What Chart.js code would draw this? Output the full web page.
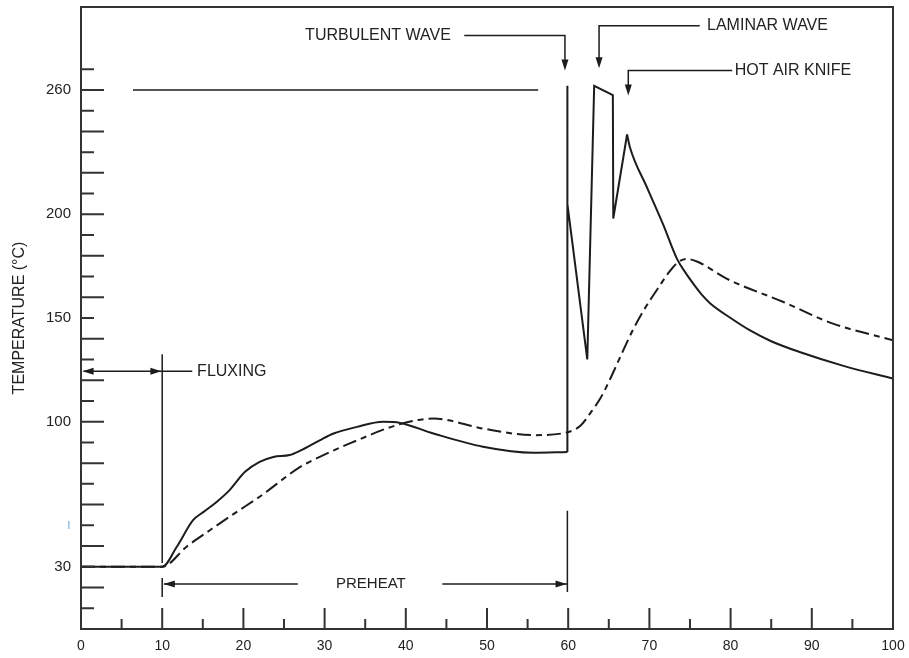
<!DOCTYPE html>
<html lang="en">
<head>
<meta charset="UTF-8">
<title>Wave soldering temperature profile</title>
<script src="https://cdn.jsdelivr.net/npm/chart.js@4.4.1/dist/chart.umd.min.js"></script>
<style>
    html, body { margin: 0; padding: 0; background: #fff; }
</style>
</head>
<body>
<canvas id="canvas" width="909" height="658"></canvas>
<script>
// axis labels
var xLabels = [0, 10, 20, 30, 40, 50, 60, 70, 80, 90, 100];
var yLabels = [30, 50, 100, 150, 200, 260];

// solid profile: preheat part (smooth)
var solidPreheatTime = [0, 10, 11.8, 13.8, 15.1, 16.7, 18.3, 20.2, 22, 23.7, 25.7, 27, 29.4, 31.1, 34, 37.2, 39.3, 43.4, 49.5, 55.7, 59.9];
var solidPreheatTemp = [30, 30, 39.7, 52.5, 56.5, 61.3, 67, 75.8, 80.6, 83, 83.9, 86, 91, 94.3, 97.5, 99.9, 99.4, 94.3, 87.9, 85, 85.4];

// solid profile: turbulent wave, laminar wave, hot air knife (sharp)
var solidWaveTime = [59.9, 59.9, 59.9, 62.35, 63.2, 65.5, 65.55, 67.25];
var solidWaveTemp = [85.4, 262, 205, 130, 262, 257.5, 198, 238.5];

// solid profile: cooling (smooth)
var solidCoolTime = [67.25, 67.6, 69.7, 71.7, 73.4, 74.5, 75.6, 76.5, 77.5, 80, 82.4, 85, 88.5, 94, 100];
var solidCoolTemp = [238.5, 232.4, 213, 195, 178.5, 171.5, 165.5, 161, 157, 150, 144, 138.8, 133.6, 126.8, 120.8];

// dash-dot profile
var dashTime = [0, 10, 13, 16, 19, 22, 27, 29.4, 33.1, 39.3, 43.4, 49.5, 55.7, 59.8, 61.5, 62.7, 64, 65.1, 66.5, 68, 69.5, 71, 72.3, 73.4, 74.6, 76, 79.5, 86.5, 92.6, 100];
var dashTemp = [30, 30, 39.7, 48, 56, 63.8, 78.2, 83, 89.5, 98.8, 101.5, 96.7, 93.5, 94.8, 98, 104, 111.5, 120, 132, 144.5, 155, 164, 171.5, 176.5, 178.5, 177, 169, 157.7, 147.3, 139.3];

function pts(xs, ys) {
    return xs.map(function (x, i) { return { x: x, y: ys[i] }; });
}

var ink = '#1c1c1c';
var font = '"Liberation Sans", Arial, Helvetica, sans-serif';

function arrowHead(ctx, x, y, dir) {
    var L = 11, W = 3.5;
    ctx.beginPath();
    ctx.moveTo(x, y);
    if (dir === 'down') { ctx.lineTo(x - W, y - L); ctx.lineTo(x + W, y - L); }
    if (dir === 'left') { ctx.lineTo(x + L, y - W); ctx.lineTo(x + L, y + W); }
    if (dir === 'right') { ctx.lineTo(x - L, y - W); ctx.lineTo(x - L, y + W); }
    ctx.closePath();
    ctx.fill();
}

function noPad(scale) {
    scale.paddingTop = 0;
    scale.paddingBottom = 0;
    scale.paddingLeft = 0;
    scale.paddingRight = 0;
}

var decor = {
    id: 'decor',
    afterDatasetsDraw: function (chart) {
        var ctx = chart.ctx;
        var xs = chart.scales.x, ys = chart.scales.y;
        var a = chart.chartArea;
        var X = function (v) { return xs.getPixelForValue(v); };
        var Y = function (v) { return ys.getPixelForValue(v); };

        ctx.save();
        ctx.strokeStyle = '#333';
        ctx.fillStyle = ink;

        // frame
        ctx.lineWidth = 2;
        ctx.strokeRect(a.left, a.top, a.right - a.left, a.bottom - a.top);

        // inside ticks
        ctx.beginPath();
        for (var t = 10; t <= 270; t += 10) {
            var len = (t % 20 === 0) ? 23 : 13;
            ctx.moveTo(a.left, Y(t)); ctx.lineTo(a.left + len, Y(t));
        }
        for (var s = 5; s <= 95; s += 5) {
            var l2 = (s % 10 === 0) ? 21 : 10;
            ctx.moveTo(X(s), a.bottom); ctx.lineTo(X(s), a.bottom - l2);
        }
        ctx.stroke();

        // annotation lines
        ctx.strokeStyle = ink;
        ctx.lineWidth = 1.5;
        ctx.beginPath();
        // 260 reference line
        ctx.moveTo(X(6.4), Y(260)); ctx.lineTo(X(56.3), Y(260));
        // turbulent wave
        ctx.moveTo(X(47.2), Y(286.3)); ctx.lineTo(X(59.6), Y(286.3)); ctx.lineTo(X(59.6), Y(271));
        // laminar wave
        ctx.moveTo(X(76.2), Y(291)); ctx.lineTo(X(63.8), Y(291)); ctx.lineTo(X(63.8), Y(272));
        // hot air knife
        ctx.moveTo(X(80.2), Y(269.4)); ctx.lineTo(X(67.4), Y(269.4)); ctx.lineTo(X(67.4), Y(259));
        // fluxing
        ctx.moveTo(X(0.3), Y(124.3)); ctx.lineTo(X(13.7), Y(124.3));
        ctx.moveTo(X(10), Y(132.5)); ctx.lineTo(X(10), Y(31.8));
        ctx.moveTo(X(10), Y(24.6)); ctx.lineTo(X(10), Y(15.4));
        // preheat
        ctx.moveTo(X(10.2), Y(21.7)); ctx.lineTo(X(26.7), Y(21.7));
        ctx.moveTo(X(44.5), Y(21.7)); ctx.lineTo(X(59.9), Y(21.7));
        ctx.moveTo(X(59.9), Y(57)); ctx.lineTo(X(59.9), Y(17.8));
        ctx.stroke();

        arrowHead(ctx, X(59.6), Y(269.4), 'down');
        arrowHead(ctx, X(63.8), Y(270.4), 'down');
        arrowHead(ctx, X(67.4), Y(257.3), 'down');
        arrowHead(ctx, X(0.2), Y(124.3), 'left');
        arrowHead(ctx, X(9.9), Y(124.3), 'right');
        arrowHead(ctx, X(10.2), Y(21.7), 'left');
        arrowHead(ctx, X(59.8), Y(21.7), 'right');

        // annotation text
        ctx.fillStyle = '#222';
        ctx.textBaseline = 'middle';
        ctx.textAlign = 'left';
        ctx.font = '16px ' + font;
        ctx.fillText('TURBULENT WAVE', X(27.6), Y(286.3));
        ctx.fillText('LAMINAR WAVE', X(77.1), Y(291));
        ctx.fillText('HOT AIR KNIFE', X(80.5), Y(269.4));
        ctx.fillText('FLUXING', X(14.3), Y(124.3));
        ctx.textAlign = 'center';
        ctx.font = '15px ' + font;
        ctx.fillText('PREHEAT', X(35.7), Y(21.7));
        ctx.restore();
    }
};

var lineStyle = {
    borderColor: ink,
    borderWidth: 2,
    pointRadius: 0,
    fill: false
};

new Chart(document.getElementById('canvas'), {
    type: 'line',
    data: {
        datasets: [
            Object.assign({ data: pts(solidPreheatTime, solidPreheatTemp), cubicInterpolationMode: 'monotone' }, lineStyle),
            Object.assign({ data: pts(solidWaveTime, solidWaveTemp), tension: 0 }, lineStyle),
            Object.assign({ data: pts(solidCoolTime, solidCoolTemp), cubicInterpolationMode: 'monotone' }, lineStyle),
            Object.assign({ data: pts(dashTime, dashTemp), cubicInterpolationMode: 'monotone', borderDash: [14, 5, 6, 5] }, lineStyle)
        ]
    },
    options: {
        responsive: false,
        devicePixelRatio: 1,
        animation: false,
        layout: { padding: { left: 0, top: 7, right: 16, bottom: 0 } },
        plugins: { legend: { display: false }, tooltip: { enabled: false } },
        scales: {
            x: {
                type: 'linear',
                min: 0,
                max: 100,
                grid: { display: false, drawTicks: false, tickLength: 0 },
                border: { display: false },
                afterBuildTicks: function (scale) {
                    scale.ticks = xLabels.map(function (v) { return { value: v }; });
                },
                afterFit: function (scale) { scale.height = 29; noPad(scale); },
                ticks: {
                    padding: 9,
                    maxRotation: 0,
                    autoSkip: false,
                    color: '#222',
                    font: { family: font, size: 14 }
                }
            },
            y: {
                type: 'linear',
                min: 0,
                max: 300,
                grid: { display: false, drawTicks: false, tickLength: 0 },
                border: { display: false },
                afterBuildTicks: function (scale) {
                    scale.ticks = yLabels.map(function (v) { return { value: v }; });
                },
                afterFit: function (scale) { scale.width = 81; noPad(scale); },
                title: {
                    display: true,
                    text: 'TEMPERATURE (°C)',
                    color: '#222',
                    padding: { top: 10, bottom: 0 },
                    font: { family: font, size: 16 }
                },
                ticks: {
                    padding: 10,
                    autoSkip: false,
                    color: function (c) { return c.tick && c.tick.value === 50 ? '#8ab6e6' : '#222'; },
                    callback: function (v) { return v === 50 ? 'ı' : v; },
                    font: { family: font, size: 15 }
                }
            }
        }
    },
    plugins: [decor]
});
</script>
</body>
</html>
